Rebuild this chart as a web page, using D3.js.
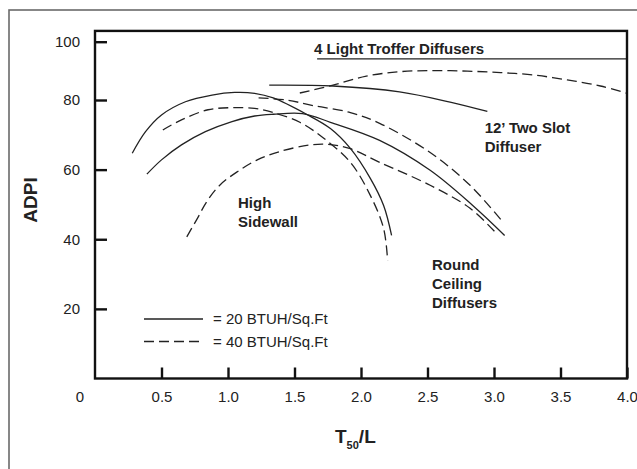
<!DOCTYPE html>
<meta charset="utf-8">
<style>
body { margin: 0; background: #fff; }
text { font-family: "Liberation Sans", Arial, sans-serif; fill: #222; }
.curve { fill: none; stroke: #222; stroke-width: 1.3px; }
.dash { stroke-dasharray: 10,5; }
.note { font-weight: bold; font-size: 15px; }
</style>
<svg width="637" height="469"></svg>
<script src="https://d3js.org/d3.v7.min.js"></script>
<script>

// curves, [T50/L, ADPI]
var sidewall20 = [[0.28,64.7],[0.38,70.9],[0.50,75.7],[0.68,79.5],[0.88,81.7],[1.05,82.6],[1.20,82.3],[1.34,80.7],[1.59,75.9],[1.77,71.8],[1.92,66.1],[2.07,57.5],[2.17,49.7],[2.23,41.1]];
var sidewall40 = [[0.51,71.4],[0.65,74.3],[0.85,77.2],[1.03,77.8],[1.20,77.6],[1.34,76.4],[1.54,73.6],[1.71,69.3],[1.92,62.1],[2.07,52.6],[2.17,43.1],[2.20,33.9]];
var round20 = [[0.39,58.7],[0.50,62.8],[0.65,67.1],[0.83,70.9],[1.03,73.8],[1.20,75.4],[1.34,75.9],[1.56,76.1],[1.77,73.6],[2.14,68.4],[2.52,59.8],[2.84,49.7],[3.08,41.1]];
var round40 = [[0.69,40.7],[0.77,46.0],[0.84,50.8],[0.94,55.6],[1.07,59.4],[1.22,62.8],[1.39,65.2],[1.62,67.1],[1.77,67.2],[1.92,66.0],[2.14,62.1],[2.52,55.5],[2.82,48.9],[3.01,42.0]];
var twoSlot20 = [[1.31,85.1],[1.79,84.8],[2.29,82.8],[2.67,79.4],[2.95,76.7]];
var twoSlot40 = [[1.23,80.7],[1.44,80.0],[1.64,78.4],[1.92,76.4],[2.14,73.3],[2.52,64.9],[2.82,55.5],[3.07,44.8]];
var troffer20 = [[1.67,94.1],[4.0,94.1]];
var troffer40 = [[1.54,82.4],[1.79,85.1],[2.04,88.2],[2.29,89.7],[2.54,90.1],[2.80,89.9],[3.05,89.4],[3.29,88.6],[3.55,86.9],[3.80,84.8],[4.0,82.3]];

var xTicks = [0.5, 1.0, 1.5, 2.0, 2.5, 3.0, 3.5, 4.0];
var yTicks = [20, 40, 60, 80, 100];
var legendLabels = ["= 20 BTUH/Sq.Ft", "= 40 BTUH/Sq.Ft"];

var svg = d3.select("svg");

// the printed axis squeezes the 80-100 step, so the scale does too
var x = d3.scaleLinear().domain([0, 4]).range([95, 627]);
var y = d3.scaleLinear().domain([0, 80, 100]).range([378.5, 100, 41.7]);
var yTop = 103.7;

svg.append("rect")
    .attr("x", 9).attr("y", 10)
    .attr("width", 700).attr("height", 500)
    .attr("fill", "none").attr("stroke", "#6a6a6a").attr("stroke-width", 1.6);

var line = d3.line()
    .x(function(d) { return x(d[0]); })
    .y(function(d) { return y(d[1]); })
    .curve(d3.curveCatmullRom.alpha(0.5));

var solid = [sidewall20, round20, twoSlot20, troffer20];
var dashed = [sidewall40, round40, twoSlot40, troffer40];

svg.append("g").selectAll("path")
    .data(solid)
    .enter().append("path")
      .attr("class", "curve")
      .attr("d", line);

svg.append("g").selectAll("path")
    .data(dashed)
    .enter().append("path")
      .attr("class", "curve dash")
      .attr("d", line);

// axes, ticks point inwards
var xAxis = svg.append("g")
    .attr("transform", "translate(0," + y(0) + ")")
    .call(d3.axisBottom(x).tickValues(xTicks).tickFormat(d3.format(".1f")).tickSize(-11).tickPadding(13));

var yAxis = svg.append("g")
    .attr("transform", "translate(" + x(0) + ",0)")
    .call(d3.axisLeft(y).tickValues(yTicks).tickSize(-12).tickPadding(15));

[xAxis, yAxis].forEach(function(a) {
  a.select(".domain").remove();
  a.selectAll("line").attr("stroke", "#111").attr("stroke-width", 2.4);
  a.selectAll("text").attr("font-size", 15).attr("font-family", null).attr("fill", "#222");
});

svg.append("text")
    .attr("x", x(0) - 15).attr("y", y(0) + 13)
    .attr("dy", "0.71em")
    .attr("text-anchor", "middle")
    .attr("font-size", 15)
    .text("0");

svg.append("rect")
    .attr("x", x(0)).attr("y", y(yTop))
    .attr("width", x(4) - x(0)).attr("height", y(0) - y(yTop))
    .attr("fill", "none").attr("stroke", "#111").attr("stroke-width", 2.4);

// axis titles
svg.append("text")
    .attr("transform", "translate(37,200) rotate(-90)")
    .attr("text-anchor", "middle")
    .attr("font-weight", "bold")
    .attr("font-size", 19)
    .text("ADPI");

var xt = svg.append("text")
    .attr("x", 335).attr("y", 443)
    .attr("font-weight", "bold")
    .attr("font-size", 19);
xt.append("tspan").text("T");
xt.append("tspan").attr("font-size", 11).attr("dy", 6).text("50");
xt.append("tspan").attr("dy", -6).text("/L");

// curve labels
function note(tx, ty, lines) {
  var t = svg.append("text").attr("class", "note")
      .attr("x", x(tx)).attr("y", y(ty));
  lines.forEach(function(s, i) {
    t.append("tspan").attr("x", x(tx)).attr("dy", i ? 19 : 0).text(s);
  });
}
note(1.647, 95.8, ["4 Light Troffer Diffusers"]);
note(2.93, 70.4, ["12\u2019 Two Slot", "Diffuser"]);
note(1.075, 49.0, ["High", "Sidewall"]);
note(2.534, 31.2, ["Round", "Ceiling", "Diffusers"]);

// legend
var legend = svg.append("g").selectAll("g")
    .data(legendLabels)
    .enter().append("g")
      .attr("transform", function(d, i) { return "translate(144," + (319 + i * 22.5) + ")"; });

legend.append("line")
    .attr("class", function(d, i) { return i ? "curve dash" : "curve"; })
    .attr("x1", 0).attr("x2", 59);

legend.append("text")
    .attr("x", 69).attr("dy", "0.35em")
    .attr("font-size", 15)
    .text(function(d) { return d; });

</script>
